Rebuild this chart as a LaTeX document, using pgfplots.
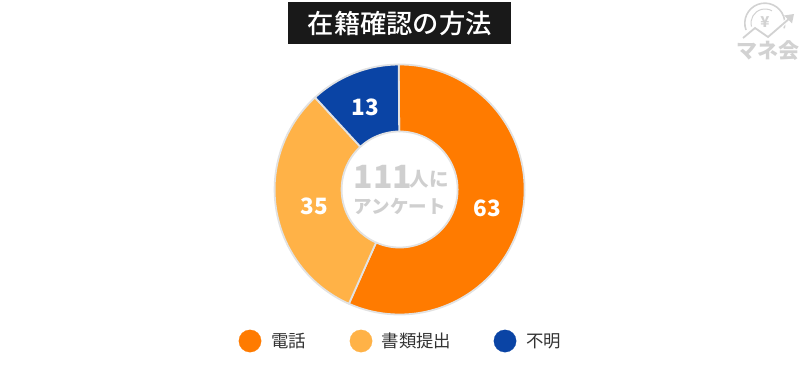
\documentclass[border=0pt]{standalone}
\usepackage{pgfplots}
\pgfplotsset{compat=1.18}
\usepackage{fontspec}
\setmainfont{Noto Sans CJK JP}
\newfontfamily\medfont{Noto Sans CJK JP Medium}
\definecolor{cA}{HTML}{FF7B00}
\definecolor{cB}{HTML}{FFB247}
\definecolor{cC}{HTML}{0A44A5}
\definecolor{rim}{HTML}{E2E2E2}
\definecolor{lab}{HTML}{CFCFCF}
\definecolor{logo}{HTML}{D2D2D2}
\newcommand{\fs}[1]{\fontsize{#1bp}{#1bp}\selectfont}
% values
\def\valA{63}\def\valB{35}\def\valC{13}
\def\cx{399.6}\def\cy{200.5}\def\ro{125}\def\ri{58}
\newcommand{\sector}[3]{% start angle, end angle (clockwise), colour
  \def\pts{}%
  \pgfmathsetmacro{\nn}{int(ceil((#1-#2)))}%
  \pgfmathsetmacro{\dd}{(#1-#2)/\nn}%
  \foreach \i in {0,...,\nn}{%
    \pgfmathsetmacro{\aa}{#1-\i*\dd}%
    \pgfmathsetmacro{\xx}{\cx+\ro*cos(\aa)}%
    \pgfmathsetmacro{\yy}{\cy+\ro*sin(\aa)}%
    \xdef\pts{\pts(\xx,\yy)}%
  }%
  \foreach \i in {\nn,...,0}{%
    \pgfmathsetmacro{\aa}{#1-\i*\dd}%
    \pgfmathsetmacro{\xx}{\cx+\ri*cos(\aa)}%
    \pgfmathsetmacro{\yy}{\cy+\ri*sin(\aa)}%
    \xdef\pts{\pts(\xx,\yy)}%
  }%
  \pgfmathsetmacro{\xx}{\cx+\ro*cos(#1)}%
  \pgfmathsetmacro{\yy}{\cy+\ro*sin(#1)}%
  \xdef\pts{\pts(\xx,\yy)}%
  \edef\tmp{\noexpand\addplot[fill=#3,draw=rim,line width=1.8bp,mark=none,line join=round] coordinates {\pts};}%
  \tmp
}
\begin{document}
\begin{tikzpicture}
\pgfmathsetmacro{\tot}{\valA+\valB+\valC}
\pgfmathsetmacro{\angA}{90.4-\valA/\tot*360}
\pgfmathsetmacro{\angB}{\angA-\valB/\tot*360}
\pgfmathsetmacro{\angC}{\angB-\valC/\tot*360}
\begin{axis}[
  scale only axis, width=800bp, height=390bp,
  xmin=0, xmax=800, ymin=0, ymax=390,
  hide axis, clip=false,
  every axis plot post/.append style={forget plot}]
\path[use as bounding box] (axis cs:0,0) rectangle (axis cs:800,390);
\sector{90.4}{\angA}{cA}
\sector{\angA}{\angB}{cB}
\sector{\angB}{\angC}{cC}
% title
\fill[black!90] (axis cs:288,346) rectangle (axis cs:511,388);
\node[text=white,font=\fs{26.3}\medfont] at (axis cs:399.8,366) {在籍確認の方法};
% slice labels
\node[text=white,font=\fs{22.5}\bfseries] at (axis cs:487.5,182) {63};
\node[text=white,font=\fs{22.5}\bfseries] at (axis cs:314,184) {35};
\node[text=white,font=\fs{22.5}\bfseries] at (axis cs:365.5,283) {13};
% centre label
\node[text=lab,font=\fs{32}\bfseries,anchor=base west,inner sep=0] at (axis cs:353.5,202) {111};
\node[text=lab,font=\fs{19.5}\bfseries,anchor=base west,inner sep=0] at (axis cs:409.5,204) {人に};
\node[text=lab,font=\fs{18.5}\bfseries,anchor=base,inner sep=0] at (axis cs:399.8,177) {アンケート};
% legend
\addplot[only marks,mark=*,mark size=11.2bp,color=cA,mark options={fill=cA,draw=cA,line width=0.2bp}] coordinates {(250,49)};
\addplot[only marks,mark=*,mark size=11.2bp,color=cB,mark options={fill=cB,draw=cB,line width=0.2bp}] coordinates {(361,49)};
\addplot[only marks,mark=*,mark size=11.2bp,color=cC,mark options={fill=cC,draw=cC,line width=0.2bp}] coordinates {(505,49)};
\node[text=black!80,font=\fs{17.4},anchor=west,inner sep=0] at (axis cs:271,49) {電話};
\node[text=black!80,font=\fs{17.4},anchor=west,inner sep=0] at (axis cs:381.5,49) {書類提出};
\node[text=black!80,font=\fs{17.4},anchor=west,inner sep=0] at (axis cs:526,49) {不明};
% logo
\draw[logo,line width=1.6bp] (axis cs:746,360) arc[start angle=200,end angle=-15,radius=20bp];
\draw[logo,line width=1bp] (axis cs:751.5,363.4) arc[start angle=195,end angle=60,radius=14bp];
\node[text=logo,font=\fs{15}\bfseries,inner sep=0] at (axis cs:765,368) {¥};
\draw[white,line width=4bp] (axis cs:743,352) -- (axis cs:755,362) -- (axis cs:768,353) -- (axis cs:790,372);
\draw[logo,line width=1.8bp] (axis cs:743,352) -- (axis cs:755,362) -- (axis cs:768,353) -- (axis cs:790,372);
\fill[logo] (axis cs:794,376) -- (axis cs:784,374.5) -- (axis cs:792,366.5) -- cycle;
\node[text=logo,font=\fs{21}\bfseries,inner sep=0] at (axis cs:767.5,339) {マネ会};
\end{axis}
\end{tikzpicture}
\end{document}
